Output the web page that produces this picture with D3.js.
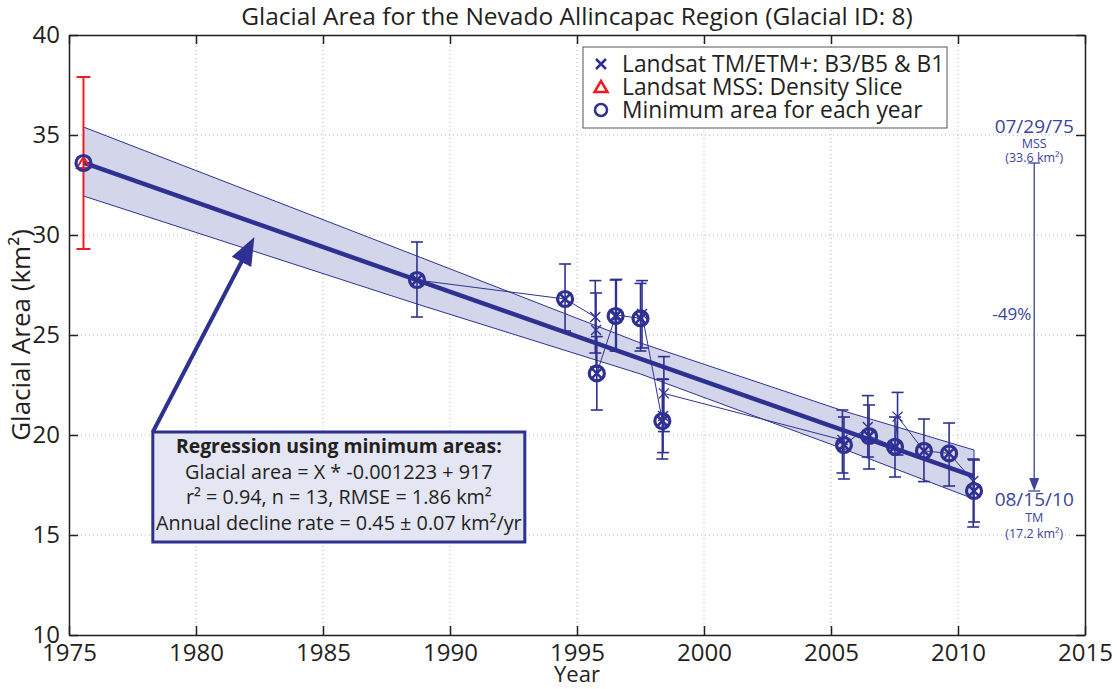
<!DOCTYPE html>
<html>
<head>
<meta charset="utf-8">
<script src="https://cdn.jsdelivr.net/npm/d3@7"></script>
<style>
  body { margin: 0; background: #fff; }
  text { font-family: "Open Sans", sans-serif; fill: #231f20; }
</style>
</head>
<body>
<div id="chart"></div>
<script>
// Landsat TM/ETM+ observations (year, area, error bar low/high)
var tmYear = [1988.70, 1994.53, 1995.72, 1995.75, 1995.78, 1996.52, 1996.55, 1997.50, 1997.56,
              1998.36, 1998.39, 1998.42, 2005.45, 2005.51, 2006.45, 2006.50, 2007.52, 2007.62,
              2008.66, 2009.65, 2010.60, 2010.63];
var tmArea = [27.75, 26.8, 25.9, 25.25, 23.08, 25.95, 26.0, 25.83, 26.05,
              20.7, 20.95, 22.08, 19.75, 19.5, 20.4, 19.95, 19.41, 20.92,
              19.21, 19.08, 17.7, 17.2];
var tmLow  = [25.9, 25.2, 24.1, 23.4, 21.25, 24.2, 24.2, 24.2, 24.35,
              18.8, 19.12, 20.17, 18.1, 17.8, 18.9, 18.3, 17.9, 19.0,
              17.67, 17.45, 15.4, 15.65];
var tmHigh = [29.65, 28.55, 27.72, 27.1, 24.92, 27.75, 27.78, 27.58, 27.72,
              22.8, 22.78, 23.92, 21.25, 20.9, 21.97, 21.5, 20.9, 22.13,
              20.8, 20.6, 18.8, 18.75];

// Landsat MSS density slice
var mssYear = [1975.57];
var mssArea = [33.6];
var mssLow  = [29.3];
var mssHigh = [37.9];

// minimum area for each year
var minYear = [1975.57, 1988.70, 1994.53, 1995.78, 1996.52, 1997.50, 1998.36,
               2005.51, 2006.50, 2007.52, 2008.66, 2009.65, 2010.63];
var minArea = [33.6, 27.75, 26.8, 23.08, 25.95, 25.83, 20.7,
               19.5, 19.95, 19.41, 19.21, 19.08, 17.2];

// regression line and its band
var regYear = [1975.57, 2010.63];
var regArea = [33.62, 17.93];
var bandYear  = [1975.57, 1988.7, 1997.5, 2005.5, 2010.63];
var bandUpper = [35.4, 28.95, 24.6, 21.2, 19.25];
var bandLower = [31.95, 26.55, 23.05, 19.3, 16.8];

var xTicks = [1975, 1980, 1985, 1990, 1995, 2000, 2005, 2010, 2015];
var yTicks = [10, 15, 20, 25, 30, 35, 40];

var legendLabels = ["Landsat TM/ETM+: B3/B5 & B1", "Landsat MSS: Density Slice", "Minimum area for each year"];
var boxLines = ["Regression using minimum areas:", "Glacial area = X * -0.001223 + 917",
                "r\u00b2 = 0.94, n = 13, RMSE = 1.86 km\u00b2", "Annual decline rate = 0.45 \u00b1 0.07 km\u00b2/yr"];

var blue = "#2e3192", red = "#ed1c24";
var width = 1117, height = 689;
var margin = {top: 35, right: 32, bottom: 54, left: 69};

var svg = d3.select("#chart").append("svg")
    .attr("width", width).attr("height", height);

var x = d3.scaleLinear().domain([1975, 2015]).range([margin.left, width - margin.right]);
var y = d3.scaleLinear().domain([10, 40]).range([height - margin.bottom, margin.top]);

// grid
svg.append("g").selectAll("line").data(xTicks.slice(1, -1)).enter().append("line")
    .attr("x1", d => x(d)).attr("x2", d => x(d))
    .attr("y1", y(10)).attr("y2", y(40))
    .attr("stroke", "#b5b5b5").attr("stroke-width", 1).attr("stroke-dasharray", "1,3");
svg.append("g").selectAll("line").data(yTicks.slice(1, -1)).enter().append("line")
    .attr("x1", x(1975)).attr("x2", x(2015))
    .attr("y1", d => y(d)).attr("y2", d => y(d))
    .attr("stroke", "#b5b5b5").attr("stroke-width", 1).attr("stroke-dasharray", "1,3");

// band
var band = bandYear.map((t, i) => ({t: t, hi: bandUpper[i], lo: bandLower[i]}));
svg.append("path").datum(band)
    .attr("d", d3.area().x(d => x(d.t)).y0(d => y(d.lo)).y1(d => y(d.hi)))
    .attr("fill", "#d3d6eb").attr("stroke", blue).attr("stroke-width", 1);

// regression line
svg.append("path").datum(regYear.map((t, i) => [t, regArea[i]]))
    .attr("d", d3.line().x(d => x(d[0])).y(d => y(d[1])))
    .attr("stroke", blue).attr("stroke-width", 4.5).attr("fill", "none");

// thin line through the observations
var tm = tmYear.map((t, i) => ({t: t, a: tmArea[i], lo: tmLow[i], hi: tmHigh[i]}));
svg.append("path").datum(tm)
    .attr("d", d3.line().x(d => x(d.t)).y(d => y(d.a)))
    .attr("stroke", blue).attr("stroke-width", 1).attr("fill", "none");

// error bars
function errorBars(data, color, w, cap) {
    var g = svg.append("g").attr("stroke", color).attr("stroke-width", w);
    var e = g.selectAll("g").data(data).enter().append("g");
    e.append("line").attr("x1", d => x(d.t)).attr("x2", d => x(d.t))
        .attr("y1", d => y(d.lo)).attr("y2", d => y(d.hi));
    e.append("line").attr("x1", d => x(d.t) - cap).attr("x2", d => x(d.t) + cap)
        .attr("y1", d => y(d.lo)).attr("y2", d => y(d.lo));
    e.append("line").attr("x1", d => x(d.t) - cap).attr("x2", d => x(d.t) + cap)
        .attr("y1", d => y(d.hi)).attr("y2", d => y(d.hi));
}
errorBars(tm, blue, 1.6, 6);
var mss = mssYear.map((t, i) => ({t: t, a: mssArea[i], lo: mssLow[i], hi: mssHigh[i]}));
errorBars(mss, red, 2, 7);

// markers
var xPath = "M-5,-5L5,5M-5,5L5,-5";
var triPath = "M0,-6L6.5,5L-6.5,5Z";
svg.append("g").selectAll("path").data(tm).enter().append("path")
    .attr("transform", d => "translate(" + x(d.t) + "," + y(d.a) + ")")
    .attr("d", xPath).attr("stroke", blue).attr("stroke-width", 1.3).attr("fill", "none");
svg.append("g").selectAll("path").data(mss).enter().append("path")
    .attr("transform", d => "translate(" + x(d.t) + "," + y(d.a) + ")")
    .attr("d", triPath).attr("stroke", red).attr("stroke-width", 2).attr("fill", "none");
var mins = minYear.map((t, i) => ({t: t, a: minArea[i]}));
var mg = svg.append("g").selectAll("g").data(mins).enter().append("g")
    .attr("transform", d => "translate(" + x(d.t) + "," + y(d.a) + ")");
mg.append("circle").attr("r", 7.5).attr("fill", "none").attr("stroke", blue).attr("stroke-width", 3.2);
mg.filter((d, i) => i > 0).append("path").attr("d", "M-4.5,-4.5L4.5,4.5M-4.5,4.5L4.5,-4.5")
    .attr("stroke", blue).attr("stroke-width", 2.5);

// axes (ticks inside, on all four sides)
function styleAxis(g) {
    g.select(".domain").attr("stroke", "#231f20").attr("stroke-width", 1.5);
    g.selectAll(".tick line").attr("stroke", "#231f20").attr("stroke-width", 1.5);
    g.selectAll("text").style("font-family", "'Open Sans', sans-serif").style("font-size", "24px").attr("fill", "#231f20");
}
svg.append("g").attr("transform", "translate(0," + y(10) + ")")
    .call(d3.axisBottom(x).tickValues(xTicks).tickFormat(d3.format("d")).tickSizeInner(-9).tickSizeOuter(0).tickPadding(9))
    .call(styleAxis);
svg.append("g").attr("transform", "translate(0," + y(40) + ")")
    .call(d3.axisTop(x).tickValues(xTicks).tickFormat("").tickSizeInner(-9).tickSizeOuter(0))
    .call(styleAxis);
svg.append("g").attr("transform", "translate(" + x(1975) + ",0)")
    .call(d3.axisLeft(y).tickValues(yTicks).tickFormat(d3.format("d")).tickSizeInner(-9).tickSizeOuter(0).tickPadding(9))
    .call(styleAxis);
svg.append("g").attr("transform", "translate(" + x(2015) + ",0)")
    .call(d3.axisRight(y).tickValues(yTicks).tickFormat("").tickSizeInner(-9).tickSizeOuter(0))
    .call(styleAxis);

// titles
svg.append("text").attr("x", (x(1975) + x(2015)) / 2).attr("y", 25)
    .attr("text-anchor", "middle").style("font-size", "24.5px")
    .text("Glacial Area for the Nevado Allincapac Region (Glacial ID: 8)");
svg.append("text").attr("x", (x(1975) + x(2015)) / 2).attr("y", 682)
    .attr("text-anchor", "middle").style("font-size", "22px").text("Year");
svg.append("text").attr("transform", "translate(30," + y(25) + ") rotate(-90)")
    .attr("text-anchor", "middle").style("font-size", "26px").text("Glacial Area (km\u00b2)");

// legend
var lg = svg.append("g").attr("transform", "translate(583,47)");
lg.append("rect").attr("width", 364).attr("height", 81).attr("fill", "#fff")
    .attr("stroke", "#555").attr("stroke-width", 1);
var li = lg.selectAll("g").data(legendLabels).enter().append("g")
    .attr("transform", (d, i) => "translate(0," + (17 + i * 23) + ")");
li.append("text").attr("x", 39).attr("y", 8).style("font-size", "22.8px").text(d => d);
li.filter((d, i) => i === 0).append("path").attr("transform", "translate(18,0)")
    .attr("d", xPath).attr("stroke", blue).attr("stroke-width", 2.5).attr("fill", "none");
li.filter((d, i) => i === 1).append("path").attr("transform", "translate(18,0)")
    .attr("d", triPath).attr("stroke", red).attr("stroke-width", 2.5).attr("fill", "none");
li.filter((d, i) => i === 2).append("circle").attr("cx", 18).attr("r", 6)
    .attr("stroke", blue).attr("stroke-width", 2.5).attr("fill", "none");

// regression text box and its arrow
var boxX = 1978.3, boxTop = 20.15;
var tip = [1982.3, 29.9];
var ax0 = x(boxX), ay0 = y(boxTop), ax1 = x(tip[0]), ay1 = y(tip[1]);
var ang = Math.atan2(ay1 - ay0, ax1 - ax0);
var hl = 28, hw = 11;
svg.append("line").attr("x1", ax0).attr("y1", ay0)
    .attr("x2", ax1 - Math.cos(ang) * (hl - 4)).attr("y2", ay1 - Math.sin(ang) * (hl - 4))
    .attr("stroke", blue).attr("stroke-width", 4);
var bx = ax1 - Math.cos(ang) * hl, by = ay1 - Math.sin(ang) * hl;
svg.append("path")
    .attr("d", "M" + ax1 + "," + ay1 +
        "L" + (bx - Math.sin(ang) * hw) + "," + (by + Math.cos(ang) * hw) +
        "L" + (bx + Math.sin(ang) * hw) + "," + (by - Math.cos(ang) * hw) + "Z")
    .attr("fill", blue);

var bw = 372, bh = 110;
svg.append("rect").attr("x", ax0).attr("y", ay0).attr("width", bw).attr("height", bh)
    .attr("fill", "#e4e6f3").attr("stroke", blue).attr("stroke-width", 3);
svg.append("g").selectAll("text").data(boxLines).enter().append("text")
    .attr("x", ax0 + bw / 2).attr("y", (d, i) => ay0 + 21 + i * 25.5)
    .attr("text-anchor", "middle")
    .style("font-size", (d, i) => i === 0 ? "19.4px" : "19.8px")
    .style("font-weight", (d, i) => i === 0 ? "bold" : "normal")
    .text(d => d);

// change annotation
var annX = 2013.0;
var annFrom = mssArea[0], annTo = minArea[minArea.length - 1];
var annColor = "#3a449c";
var ag = svg.append("g").attr("stroke", annColor).attr("stroke-width", 1.3);
ag.append("line").attr("x1", x(annX)).attr("x2", x(annX)).attr("y1", y(annFrom)).attr("y2", y(annTo) - 10);
ag.append("line").attr("x1", x(annX) - 6).attr("x2", x(annX) + 6).attr("y1", y(annFrom)).attr("y2", y(annFrom));
ag.append("line").attr("x1", x(annX) - 6).attr("x2", x(annX) + 6).attr("y1", y(annTo)).attr("y2", y(annTo));
svg.append("path").attr("d", "M" + x(annX) + "," + y(annTo) + "l-5,-13l10,0Z").attr("fill", annColor);

svg.append("text").attr("x", x(annX) - 3).attr("y", y(25.75)).attr("text-anchor", "end")
    .style("font-size", "17px").style("fill", annColor).text("-49%");

var topLbl = ["07/29/75", "MSS", "(33.6 km\u00b2)"];
var botLbl = ["08/15/10", "TM", "(17.2 km\u00b2)"];
var lblSize = [19, 12.5, 12.5];
var topY = [133, 148, 162], botY = [506, 522, 538];
svg.append("g").selectAll("text").data(topLbl).enter().append("text")
    .attr("x", x(annX)).attr("y", (d, i) => topY[i]).attr("text-anchor", "middle")
    .style("font-size", (d, i) => lblSize[i] + "px").style("fill", annColor).text(d => d);
svg.append("g").selectAll("text").data(botLbl).enter().append("text")
    .attr("x", x(annX)).attr("y", (d, i) => botY[i]).attr("text-anchor", "middle")
    .style("font-size", (d, i) => lblSize[i] + "px").style("fill", annColor).text(d => d);
</script>
</body>
</html>
